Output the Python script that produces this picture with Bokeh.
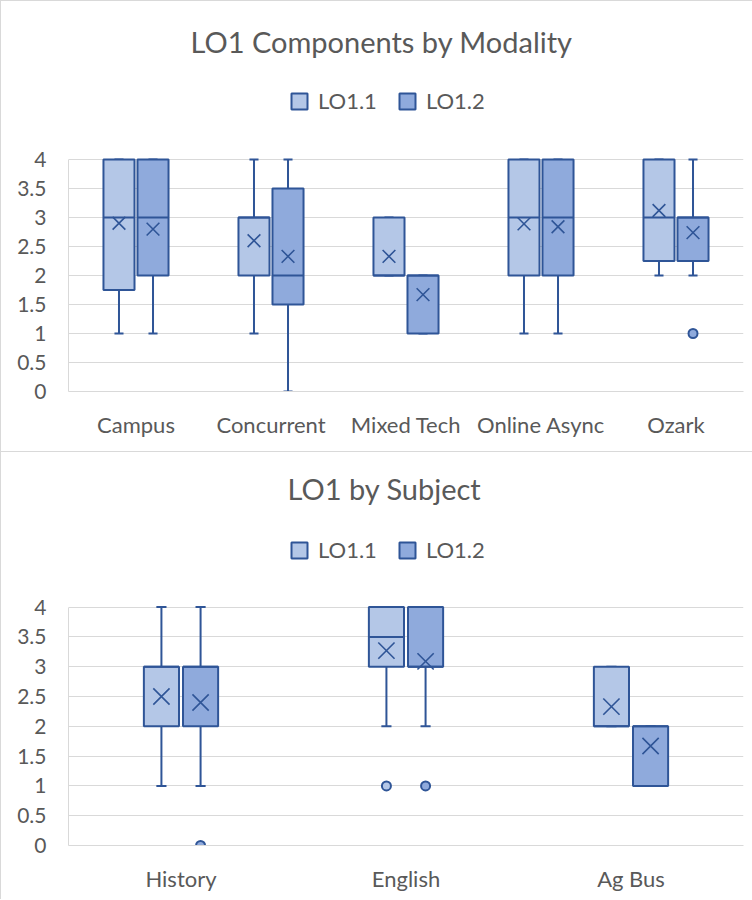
from bokeh.plotting import figure
from bokeh.models import (FactorRange, Range1d, FixedTicker, Legend, LegendItem,
                          ColumnDataSource)
from bokeh.transform import dodge
from bokeh.layouts import column
from bokeh.embed import file_html
from bokeh.resources import INLINE

FONT = "Lato"
TEXT = "#595959"
GRID = "#D9D9D9"
EDGE = "#2F5597"
FILL_11 = "#B4C7E7"
FILL_12 = "#8FAADC"

yticks = [0, 0.5, 1, 1.5, 2, 2.5, 3, 3.5, 4]
ytick_labels = ["0", "0.5", "1", "1.5", "2", "2.5", "3", "3.5", "4"]
series_names = ["LO1.1", "LO1.2"]

# ---- Chart 1: LO1 Components by Modality ----
mod_title = "LO1 Components by Modality"
mod_cats = ["Campus", "Concurrent", "Mixed Tech", "Online Async", "Ozark"]
mod_11_low = [1, 1, 2, 1, 2]
mod_11_q1 = [1.75, 2, 2, 2, 2.25]
mod_11_med = [3, 3, 2, 3, 3]
mod_11_q3 = [4, 3, 3, 4, 4]
mod_11_high = [4, 4, 3, 4, 4]
mod_11_mean = [2.9, 2.6, 2.33, 2.89, 3.12]
mod_11_out_cat = []
mod_11_out_val = []
mod_12_low = [1, 0, 1, 1, 2]
mod_12_q1 = [2, 1.5, 1, 2, 2.25]
mod_12_med = [3, 2, 2, 3, 3]
mod_12_q3 = [4, 3.5, 2, 4, 3]
mod_12_high = [4, 4, 2, 4, 4]
mod_12_mean = [2.8, 2.33, 1.67, 2.84, 2.74]
mod_12_out_cat = ["Ozark"]
mod_12_out_val = [1]

# ---- Chart 2: LO1 by Subject ----
sub_title = "LO1 by Subject"
sub_cats = ["History", "English", "Ag Bus"]
sub_11_low = [1, 2, 2]
sub_11_q1 = [2, 3, 2]
sub_11_med = [3, 3.5, 2]
sub_11_q3 = [3, 4, 3]
sub_11_high = [4, 4, 3]
sub_11_mean = [2.5, 3.27, 2.33]
sub_11_out_cat = ["English"]
sub_11_out_val = [1]
sub_12_low = [1, 2, 1]
sub_12_q1 = [2, 3, 1]
sub_12_med = [3, 3, 2]
sub_12_q3 = [3, 4, 2]
sub_12_high = [4, 4, 2]
sub_12_mean = [2.4, 3.09, 1.67]
sub_12_out_cat = ["History", "English"]
sub_12_out_val = [0, 1]


def make_chart(title, cats, series, height, top_b, bottom_b, px_unit,
               box_w, off, cap_w, x_size, legend_xy, title_offset):
    y_end = (height - bottom_b - top_b) / px_unit
    p = figure(x_range=FactorRange(*cats), y_range=Range1d(0, y_end),
               width=752, height=height, output_backend="svg",
               toolbar_location=None, min_border_left=68, min_border_right=9,
               min_border_top=top_b, min_border_bottom=bottom_b)
    p.border_fill_color = None
    p.background_fill_color = None
    p.outline_line_color = None
    p.styles = {"box-shadow": "inset 1px 1px 0 0 #D9D9D9"}

    p.title.text = title
    p.title.text_font = FONT
    p.title.text_font_size = "29px"
    p.title.text_font_style = "normal"
    p.title.text_color = TEXT
    p.title.align = "left"
    p.title.offset = title_offset
    p.title.standoff = 8

    p.xgrid.grid_line_color = None
    p.ygrid.ticker = FixedTicker(ticks=yticks)
    p.ygrid.grid_line_color = GRID
    p.ygrid.grid_line_width = 1

    p.yaxis.ticker = FixedTicker(ticks=yticks)
    p.yaxis.major_label_overrides = dict(zip(yticks, ytick_labels))
    p.yaxis.bounds = (0, 4)
    for ax in (p.xaxis, p.yaxis):
        ax.axis_line_color = GRID
        ax.major_tick_line_color = None
        ax.minor_tick_line_color = None
        ax.major_label_text_font = FONT
        ax.major_label_text_color = TEXT
    p.yaxis.major_label_text_font_size = "21px"
    p.xaxis.major_label_text_font_size = "22px"
    p.yaxis.major_label_standoff = 16
    p.xaxis.major_label_standoff = 13

    items = []
    for (name, fill, d), o in zip(series, (-off, off)):
        src = ColumnDataSource(dict(cat=cats, low=d[0], q1=d[1], med=d[2],
                                    q3=d[3], high=d[4], mean=d[5]))
        xc = dodge("cat", o, range=p.x_range)
        xl = dodge("cat", o - box_w / 2, range=p.x_range)
        xr = dodge("cat", o + box_w / 2, range=p.x_range)
        cl = dodge("cat", o - cap_w / 2, range=p.x_range)
        cr = dodge("cat", o + cap_w / 2, range=p.x_range)
        p.segment(x0=xc, x1=xc, y0="q1", y1="low", source=src,
                  line_color=EDGE, line_width=2)
        p.segment(x0=xc, x1=xc, y0="q3", y1="high", source=src,
                  line_color=EDGE, line_width=2)
        p.segment(x0=cl, x1=cr, y0="low", y1="low", source=src,
                  line_color=EDGE, line_width=2)
        p.segment(x0=cl, x1=cr, y0="high", y1="high", source=src,
                  line_color=EDGE, line_width=2)
        box = p.vbar(x=xc, width=box_w, top="q3", bottom="q1", source=src,
                     fill_color=fill, line_color=EDGE, line_width=2)
        p.segment(x0=xl, x1=xr, y0="med", y1="med", source=src,
                  line_color=EDGE, line_width=2)
        p.scatter(x=xc, y="mean", source=src, marker="x", size=x_size,
                  line_color=EDGE, line_width=1.6)
        osrc = ColumnDataSource(dict(cat=d[6], val=d[7]))
        p.scatter(x=dodge("cat", o, range=p.x_range), y="val", source=osrc,
                  marker="circle", size=9, fill_color=fill,
                  line_color=EDGE, line_width=2)
        items.append(LegendItem(label=name, renderers=[box]))

    legend = Legend(items=items, orientation="horizontal", location=legend_xy,
                    glyph_width=20, glyph_height=20, label_text_font=FONT,
                    label_text_font_size="22px", label_text_color=TEXT,
                    label_standoff=9, spacing=20, padding=4, margin=0,
                    border_line_color=None, background_fill_alpha=0)
    p.add_layout(legend)
    return p


p1 = make_chart(
    mod_title, mod_cats,
    [("LO1.1", FILL_11, (mod_11_low, mod_11_q1, mod_11_med, mod_11_q3,
                         mod_11_high, mod_11_mean, mod_11_out_cat, mod_11_out_val)),
     ("LO1.2", FILL_12, (mod_12_low, mod_12_q1, mod_12_med, mod_12_q3,
                         mod_12_high, mod_12_mean, mod_12_out_cat, mod_12_out_val))],
    height=451, top_b=62, bottom_b=60, px_unit=58,
    box_w=0.23, off=0.126, cap_w=0.067, x_size=18,
    legend_xy=(221, 277), title_offset=122)

p2 = make_chart(
    sub_title, sub_cats,
    [("LO1.1", FILL_11, (sub_11_low, sub_11_q1, sub_11_med, sub_11_q3,
                         sub_11_high, sub_11_mean, sub_11_out_cat, sub_11_out_val)),
     ("LO1.2", FILL_12, (sub_12_low, sub_12_q1, sub_12_med, sub_12_q3,
                         sub_12_high, sub_12_mean, sub_12_out_cat, sub_12_out_val))],
    height=448, top_b=58, bottom_b=54, px_unit=59.6,
    box_w=0.156, off=0.087, cap_w=0.045, x_size=23,
    legend_xy=(221, 282), title_offset=219)

layout = column(p1, p2, spacing=0)
open("out.html", "w").write(file_html(layout, INLINE))
